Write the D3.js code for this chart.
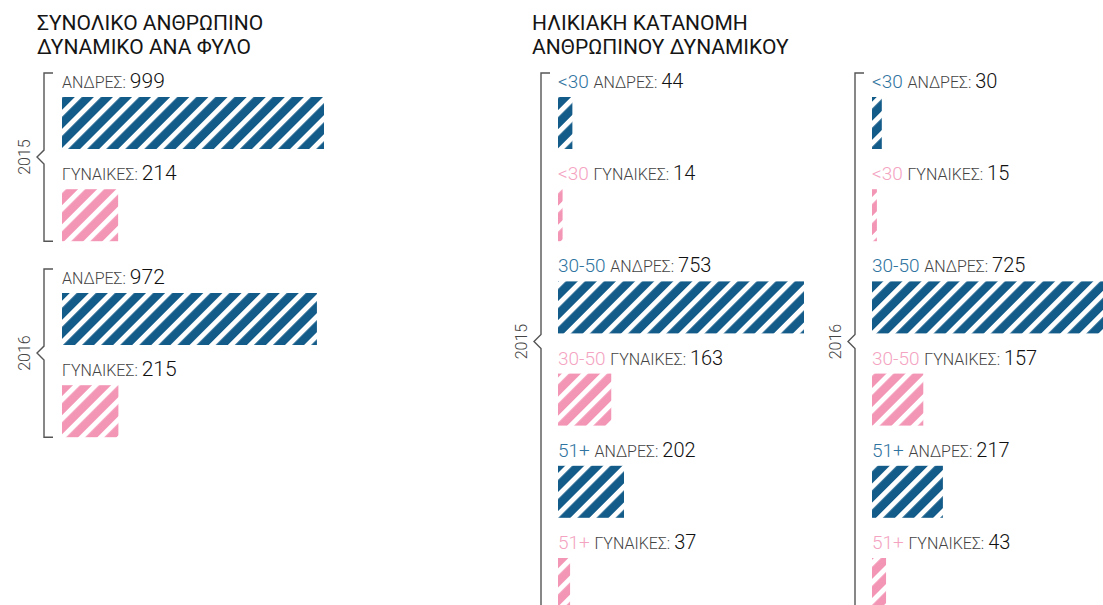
<!DOCTYPE html>
<html>
<head>
<meta charset="utf-8">
<script src="https://cdn.jsdelivr.net/npm/d3@7"></script>
<style>
  html, body { margin: 0; padding: 0; background: #fff; }
  svg { display: block; font-family: Roboto, "Noto Sans", sans-serif; }
</style>
</head>
<body>
<svg id="chart" width="1103" height="605"></svg>
<script>
// data
const years = ['2015', '2016'];
const genders = ['ΑΝΔΡΕΣ', 'ΓΥΝΑΙΚΕΣ'];
const totals2015 = [999, 214];
const totals2016 = [972, 215];
const ageGroups = ['<30', '30-50', '51+'];
const menByAge2015 = [44, 753, 202];
const womenByAge2015 = [14, 163, 37];
const menByAge2016 = [30, 725, 217];
const womenByAge2016 = [15, 157, 43];

const titleLeft = ['ΣΥΝΟΛΙΚΟ ΑΝΘΡΩΠΙΝΟ', 'ΔΥΝΑΜΙΚΟ ΑΝΑ ΦΥΛΟ'];
const titleRight = ['ΗΛΙΚΙΑΚΗ ΚΑΤΑΝΟΜΗ', 'ΑΝΘΡΩΠΙΝΟΥ ΔΥΝΑΜΙΚΟΥ'];

const colors = { bar: ['#135b88', '#f396b5'], text: ['#2f73a0', '#f4a3c1'] };

const svg = d3.select('#chart');
const defs = svg.append('defs');

// striped fills
colors.bar.forEach((c, i) => {
  const p = defs.append('pattern')
    .attr('id', 'stripe' + i)
    .attr('patternUnits', 'userSpaceOnUse')
    .attr('width', 13.5)
    .attr('height', 13.5)
    .attr('patternTransform', 'rotate(45)');
  p.append('rect').attr('width', 13.5).attr('height', 13.5).attr('fill', c);
  p.append('rect').attr('width', 5).attr('height', 13.5).attr('fill', '#fff');
});

const barH = 52;
const rowStep = 92.2;

function title(x, lines) {
  svg.append('g')
    .selectAll('text')
    .data(lines)
    .join('text')
    .attr('x', x)
    .attr('y', (d, i) => 30 + i * 24)
    .attr('font-size', 21)
    .attr('fill', '#151515')
    .text((d) => d);
}

function bracket(x, top, bottom, year) {
  const mid = (top + bottom) / 2;
  const g = svg.append('g');
  g.append('path')
    .attr('d', `M${x + 9},${top}H${x}V${mid - 7}L${x - 7},${mid}L${x},${mid + 7}V${bottom}H${x + 9}`)
    .attr('fill', 'none')
    .attr('stroke', '#555')
    .attr('stroke-width', 1.4);
  g.append('text')
    .attr('transform', `translate(${x - 14},${mid}) rotate(-90)`)
    .attr('text-anchor', 'middle')
    .attr('font-size', 16)
    .attr('font-weight', 300)
    .attr('fill', '#444')
    .text(year);
}

// rows: {prefix, label, value, kind, y}
function drawRows(rows, x0, xScale, sizes) {
  const g = svg.append('g');
  g.selectAll('rect')
    .data(rows)
    .join('rect')
    .attr('x', x0)
    .attr('y', (d) => d.y)
    .attr('width', (d) => xScale(d.value) - x0)
    .attr('height', barH)
    .attr('fill', (d) => `url(#stripe${d.kind})`);

  const t = g.selectAll('text')
    .data(rows)
    .join('text')
    .attr('x', x0)
    .attr('y', (d) => d.y - 9);
  t.filter((d) => d.prefix)
    .append('tspan')
    .attr('font-size', sizes.prefix)
    .attr('font-weight', 300)
    .attr('fill', (d) => colors.text[d.kind])
    .text((d) => d.prefix + ' ');
  t.append('tspan')
    .attr('font-size', sizes.label)
    .attr('font-weight', 300)
    .attr('fill', '#444')
    .text((d) => d.label + ': ');
  t.append('tspan')
    .attr('font-size', sizes.value)
    .attr('font-weight', 300)
    .attr('fill', '#111')
    .text((d) => d.value);
}

// left chart: totals by gender
title(37, titleLeft);
const xLeft = d3.scaleLinear().domain([0, 999]).range([62, 324]);
const yLeft = d3.scaleLinear().domain([0, 1]).range([97, 97 + rowStep]);
[totals2015, totals2016].forEach((vals, yi) => {
  const off = yi * 196;
  const rows = vals.map((v, i) => ({ label: genders[i], value: v, kind: i, y: yLeft(i) + off }));
  drawRows(rows, 62, xLeft, { prefix: 17, label: 16, value: 21 });
  bracket(44, yLeft(0) + off - 24, yLeft(1) + off + barH, years[yi]);
});

// right charts: by age group
title(532, titleRight);
const xAge = d3.scaleLinear().domain([0, 753]).range([0, 246]);
const yAge = d3.scaleLinear().domain([0, 1]).range([97, 97 + rowStep]);
[[menByAge2015, womenByAge2015], [menByAge2016, womenByAge2016]].forEach((pair, yi) => {
  const bx = yi === 0 ? 541 : 855;
  const x0 = bx + 17;
  const rows = [];
  ageGroups.forEach((a, ai) => {
    pair.forEach((vals, gi) => {
      const idx = ai * 2 + gi;
      rows.push({ prefix: a, label: genders[gi], value: vals[ai], kind: gi, y: yAge(idx) });
    });
  });
  const xs = (v) => x0 + xAge(v);
  drawRows(rows, x0, xs, { prefix: 19, label: 16, value: 20 });
  bracket(bx, yAge(0) - 24, yAge(5) + barH, years[yi]);
});
</script>
</body>
</html>
